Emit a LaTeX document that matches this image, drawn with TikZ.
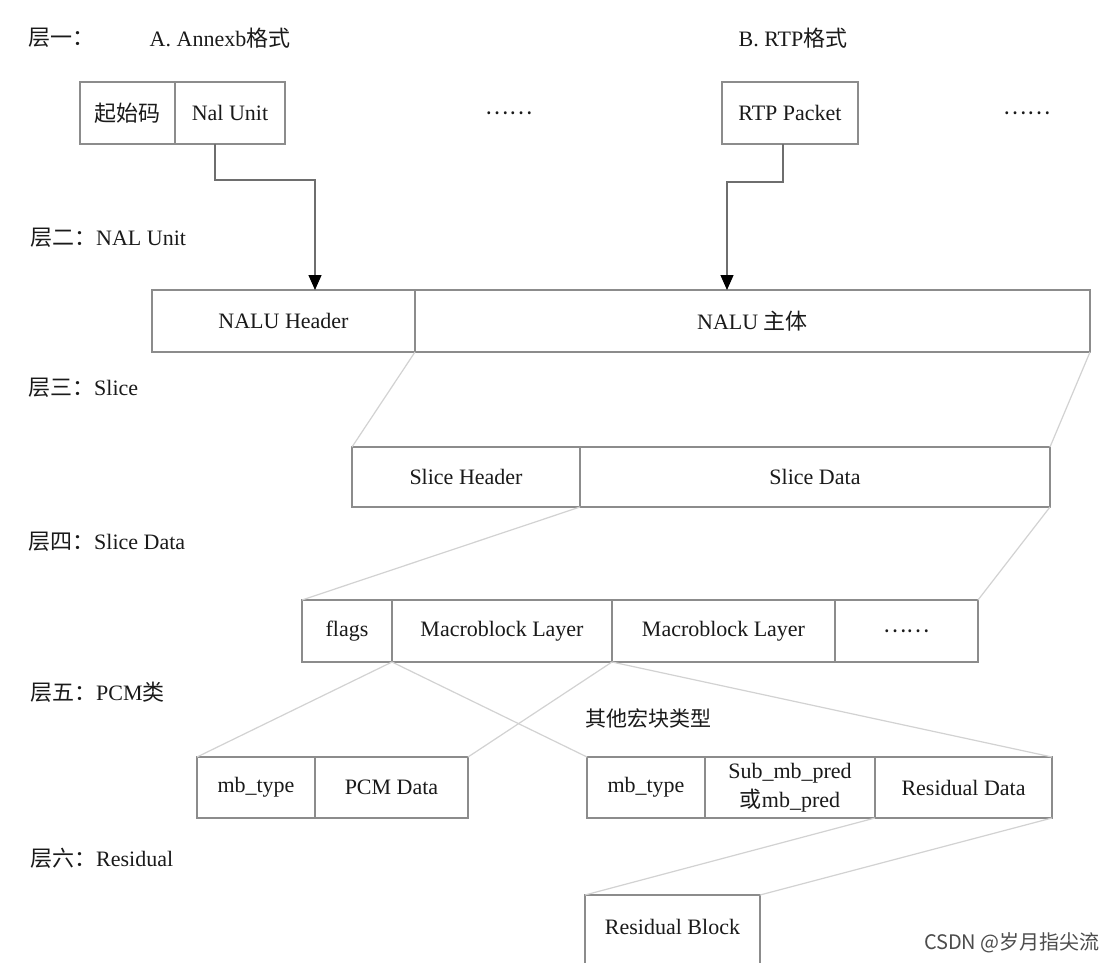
\documentclass[tikz,border=0pt]{standalone}
\usepackage{fontspec}
\setmainfont{Liberation Serif}
\newfontfamily\zhfont{Noto Sans CJK SC}
\usetikzlibrary{positioning,arrows.meta}

\definecolor{boxgray}{HTML}{8C8C8C}
\definecolor{fangray}{HTML}{D2D2D2}
\definecolor{feedgray}{HTML}{6E6E6E}
\definecolor{inkgray}{HTML}{1A1A1A}
\newcommand{\zh}[1]{{\zhfont #1}}

\tikzset{
  cell/.style={draw=boxgray, line width=1.3pt, minimum height=62pt, inner sep=0pt, outer sep=0pt,
               text=inkgray, font=\fontsize{22}{29}\selectfont, align=center},
  layer/.style={anchor=west, inner sep=0pt, text=inkgray, font=\fontsize{22}{26}\selectfont},
  fan/.style={draw=fangray, line width=1.2pt},
  feed/.style={draw=feedgray, line width=1.3pt, -{Triangle[length=15pt,width=13pt,color=black]}},
}

\begin{document}
\begin{tikzpicture}[x=1pt,y=-1pt]
\useasboundingbox (0,0) rectangle (1114,963);
\fill[white] (0,0) rectangle (1114,963);
\clip (0,0) rectangle (1114,963);

% layer titles
\node[layer] (t1) at (28,38) {\zh{层一：}};
\node[layer] (t2) at (30,238) {\zh{层二：}NAL Unit};
\node[layer] (t3) at (28,388) {\zh{层三：}Slice};
\node[layer] (t4) at (28,542) {\zh{层四：}Slice Data};
\node[layer] (t5) at (30,692) {\zh{层五：}PCM\zh{类}};
\node[layer] (t6) at (30,858) {\zh{层六：}Residual};

\node[layer, anchor=center] (fmtA) at (220,38) {A. Annexb\zh{格式}};
\node[layer, anchor=center] (fmtB) at (793,38) {B. RTP\zh{格式}};

% layer 1
\node[cell, minimum width=95pt, anchor=north west] (start) at (80,82) {\zh{起始码}};
\node[cell, minimum width=110pt, right=0pt of start] (nal) {Nal Unit};
\node[cell, draw=none] (dotsA) at (509,113) {\zh{……}};
\node[cell, minimum width=136pt, anchor=north west] (rtp) at (722,82) {RTP Packet};
\node[cell, draw=none] (dotsB) at (1027,113) {\zh{……}};

% layer 2
\node[cell, minimum width=263pt, anchor=north west] (hdr) at (152,290) {NALU Header};
\node[cell, minimum width=675pt, right=0pt of hdr] (body) {NALU \zh{主体}};

% layer 3
\node[cell, minimum width=228pt, minimum height=60pt, anchor=north west] (sh) at (352,447) {Slice Header};
\node[cell, minimum width=470pt, minimum height=60pt, right=0pt of sh] (sd) {Slice Data};

% layer 4
\node[cell, minimum width=90pt, anchor=north west] (flags) at (302,600) {flags};
\node[cell, minimum width=220pt, right=0pt of flags] (mb1) {Macroblock Layer};
\node[cell, minimum width=223pt, right=0pt of mb1] (mb2) {Macroblock Layer};
\node[cell, minimum width=143pt, right=0pt of mb2] (more) {\zh{……}};

% layer 5
\node[text=inkgray, font=\fontsize{21}{24}\selectfont] (other) at (648,718) {\zh{其他宏块类型}};
\node[cell, minimum width=118pt, minimum height=61pt, anchor=north west] (pmt) at (197,757) {mb\_type};
\node[cell, minimum width=153pt, minimum height=61pt, right=0pt of pmt] (pdat) {PCM Data};
\node[cell, minimum width=118pt, minimum height=61pt, anchor=north west] (omt) at (587,757) {mb\_type};
\node[cell, minimum width=170pt, minimum height=61pt, right=0pt of omt] (opred) {Sub\_mb\_pred\\\zh{或}mb\_pred};
\node[cell, minimum width=177pt, minimum height=61pt, right=0pt of opred] (ores) {Residual Data};

% layer 6 (runs off the bottom edge)
\node[cell, draw=none, minimum width=175pt, minimum height=64pt, anchor=north west] (rb) at (585,895) {Residual Block};
\draw[boxgray, line width=1.3pt] (rb.south west) ++(0,40) -- (rb.north west) -- (rb.north east) -- ++(0,110);

% feeds into NAL unit
\coordinate (nalout) at (215,144);
\coordinate (nalin) at (315,290);
\coordinate (rtpout) at (783,144);
\coordinate (rtpin) at (727,290);
\draw[feed] (nalout) -- ++(0,36) -| (nalin);
\draw[feed] (rtpout) -- ++(0,38) -| (rtpin);

% expansion lines
\draw[fan] (hdr.south east) -- (sh.north west);
\draw[fan] (body.south east) -- (sd.north east);
\draw[fan] (sd.south west) -- (flags.north west);
\draw[fan] (sd.south east) -- (more.north east);
\draw[fan] (mb1.south west) -- (pmt.north west);
\draw[fan] (mb1.south east) -- (pdat.north east);
\draw[fan] (mb1.south west) -- (omt.north west);
\draw[fan] (mb1.south east) -- (ores.north east);
\draw[fan] (opred.south east) -- (rb.north west);
\draw[fan] (ores.south east) -- (rb.north east);

\node[anchor=east, inner sep=0pt, text=black!70, font=\zhfont\fontsize{20}{24}\selectfont] (mark) at (1100,943) {CSDN @岁月指尖流};
\end{tikzpicture}
\end{document}
